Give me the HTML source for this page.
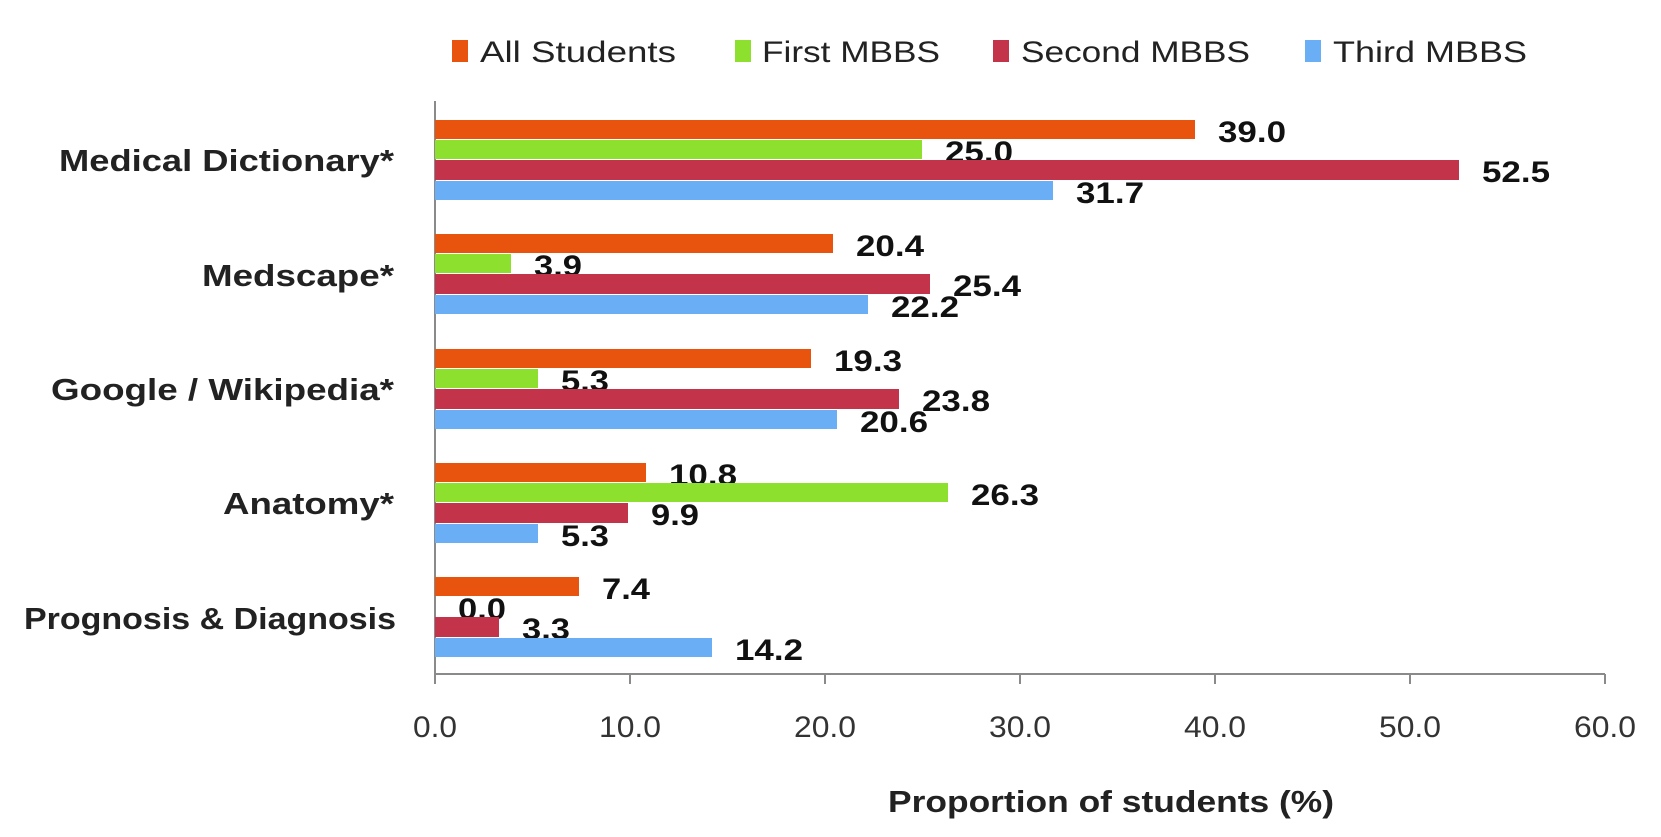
<!DOCTYPE html>
<html><head><style>body{margin:0;background:#fff}svg{display:block}text{font-family:"Liberation Sans",sans-serif}</style></head>
<body>
<svg width="1661" height="837" xmlns="http://www.w3.org/2000/svg">
<g font-size="30" fill="#222">
<rect x="452" y="40" width="16" height="22" fill="#E8530E"/><text x="480" y="62" textLength="196" lengthAdjust="spacingAndGlyphs">All Students</text>
<rect x="735" y="40" width="16" height="22" fill="#8EE02E"/><text x="762" y="62" textLength="178" lengthAdjust="spacingAndGlyphs">First MBBS</text>
<rect x="993" y="40" width="16" height="22" fill="#C3344A"/><text x="1021" y="62" textLength="229" lengthAdjust="spacingAndGlyphs">Second MBBS</text>
<rect x="1305" y="40" width="16" height="22" fill="#6AAEF5"/><text x="1333" y="62" textLength="194" lengthAdjust="spacingAndGlyphs">Third MBBS</text>
</g>
<g stroke="#8a8a8a" stroke-width="2">
<line x1="435" y1="101" x2="435" y2="674"/>
<line x1="435" y1="674" x2="1605" y2="674"/>
<line x1="435" y1="674" x2="435" y2="684"/><line x1="630" y1="674" x2="630" y2="684"/><line x1="825" y1="674" x2="825" y2="684"/><line x1="1020" y1="674" x2="1020" y2="684"/><line x1="1215" y1="674" x2="1215" y2="684"/><line x1="1410" y1="674" x2="1410" y2="684"/><line x1="1605" y1="674" x2="1605" y2="684"/>
</g>
<g font-size="30" fill="#333" text-anchor="middle">
<text x="435" y="737" textLength="44" lengthAdjust="spacingAndGlyphs">0.0</text><text x="630" y="737" textLength="62" lengthAdjust="spacingAndGlyphs">10.0</text><text x="825" y="737" textLength="62" lengthAdjust="spacingAndGlyphs">20.0</text><text x="1020" y="737" textLength="62" lengthAdjust="spacingAndGlyphs">30.0</text><text x="1215" y="737" textLength="62" lengthAdjust="spacingAndGlyphs">40.0</text><text x="1410" y="737" textLength="62" lengthAdjust="spacingAndGlyphs">50.0</text><text x="1605" y="737" textLength="62" lengthAdjust="spacingAndGlyphs">60.0</text>
</g>
<text x="1111" y="812" font-size="31" font-weight="bold" fill="#222" text-anchor="middle" textLength="446" lengthAdjust="spacingAndGlyphs">Proportion of students (%)</text>
<g font-size="31" font-weight="bold" fill="#222" text-anchor="end">
<text x="394" y="171" textLength="335" lengthAdjust="spacingAndGlyphs">Medical Dictionary*</text>
<text x="394" y="286" textLength="192" lengthAdjust="spacingAndGlyphs">Medscape*</text>
<text x="394" y="400" textLength="343" lengthAdjust="spacingAndGlyphs">Google / Wikipedia*</text>
<text x="394" y="514" textLength="171" lengthAdjust="spacingAndGlyphs">Anatomy*</text>
<text x="396" y="629" textLength="372" lengthAdjust="spacingAndGlyphs">Prognosis &amp; Diagnosis</text>
</g>
<g font-size="30" font-weight="bold" fill="#111">
<rect x="435" y="120" width="760" height="19" fill="#E8530E"/><text x="1218" y="142" textLength="68" lengthAdjust="spacingAndGlyphs">39.0</text>
<rect x="435" y="140" width="487" height="19" fill="#8EE02E"/><text x="945" y="162" textLength="68" lengthAdjust="spacingAndGlyphs">25.0</text>
<rect x="435" y="160" width="1024" height="20" fill="#C3344A"/><text x="1482" y="182" textLength="68" lengthAdjust="spacingAndGlyphs">52.5</text>
<rect x="435" y="181" width="618" height="19" fill="#6AAEF5"/><text x="1076" y="203" textLength="68" lengthAdjust="spacingAndGlyphs">31.7</text>
<rect x="435" y="234" width="398" height="19" fill="#E8530E"/><text x="856" y="256" textLength="68" lengthAdjust="spacingAndGlyphs">20.4</text>
<rect x="435" y="254" width="76" height="19" fill="#8EE02E"/><text x="534" y="276" textLength="48" lengthAdjust="spacingAndGlyphs">3.9</text>
<rect x="435" y="274" width="495" height="20" fill="#C3344A"/><text x="953" y="296" textLength="68" lengthAdjust="spacingAndGlyphs">25.4</text>
<rect x="435" y="295" width="433" height="19" fill="#6AAEF5"/><text x="891" y="317" textLength="68" lengthAdjust="spacingAndGlyphs">22.2</text>
<rect x="435" y="349" width="376" height="19" fill="#E8530E"/><text x="834" y="371" textLength="68" lengthAdjust="spacingAndGlyphs">19.3</text>
<rect x="435" y="369" width="103" height="19" fill="#8EE02E"/><text x="561" y="391" textLength="48" lengthAdjust="spacingAndGlyphs">5.3</text>
<rect x="435" y="389" width="464" height="20" fill="#C3344A"/><text x="922" y="411" textLength="68" lengthAdjust="spacingAndGlyphs">23.8</text>
<rect x="435" y="410" width="402" height="19" fill="#6AAEF5"/><text x="860" y="432" textLength="68" lengthAdjust="spacingAndGlyphs">20.6</text>
<rect x="435" y="463" width="211" height="19" fill="#E8530E"/><text x="669" y="485" textLength="68" lengthAdjust="spacingAndGlyphs">10.8</text>
<rect x="435" y="483" width="513" height="19" fill="#8EE02E"/><text x="971" y="505" textLength="68" lengthAdjust="spacingAndGlyphs">26.3</text>
<rect x="435" y="503" width="193" height="20" fill="#C3344A"/><text x="651" y="525" textLength="48" lengthAdjust="spacingAndGlyphs">9.9</text>
<rect x="435" y="524" width="103" height="19" fill="#6AAEF5"/><text x="561" y="546" textLength="48" lengthAdjust="spacingAndGlyphs">5.3</text>
<rect x="435" y="577" width="144" height="19" fill="#E8530E"/><text x="602" y="599" textLength="48" lengthAdjust="spacingAndGlyphs">7.4</text>
<text x="458" y="619" textLength="48" lengthAdjust="spacingAndGlyphs">0.0</text>
<rect x="435" y="617" width="64" height="20" fill="#C3344A"/><text x="522" y="639" textLength="48" lengthAdjust="spacingAndGlyphs">3.3</text>
<rect x="435" y="638" width="277" height="19" fill="#6AAEF5"/><text x="735" y="660" textLength="68" lengthAdjust="spacingAndGlyphs">14.2</text>
</g>
</svg>
</body></html>
